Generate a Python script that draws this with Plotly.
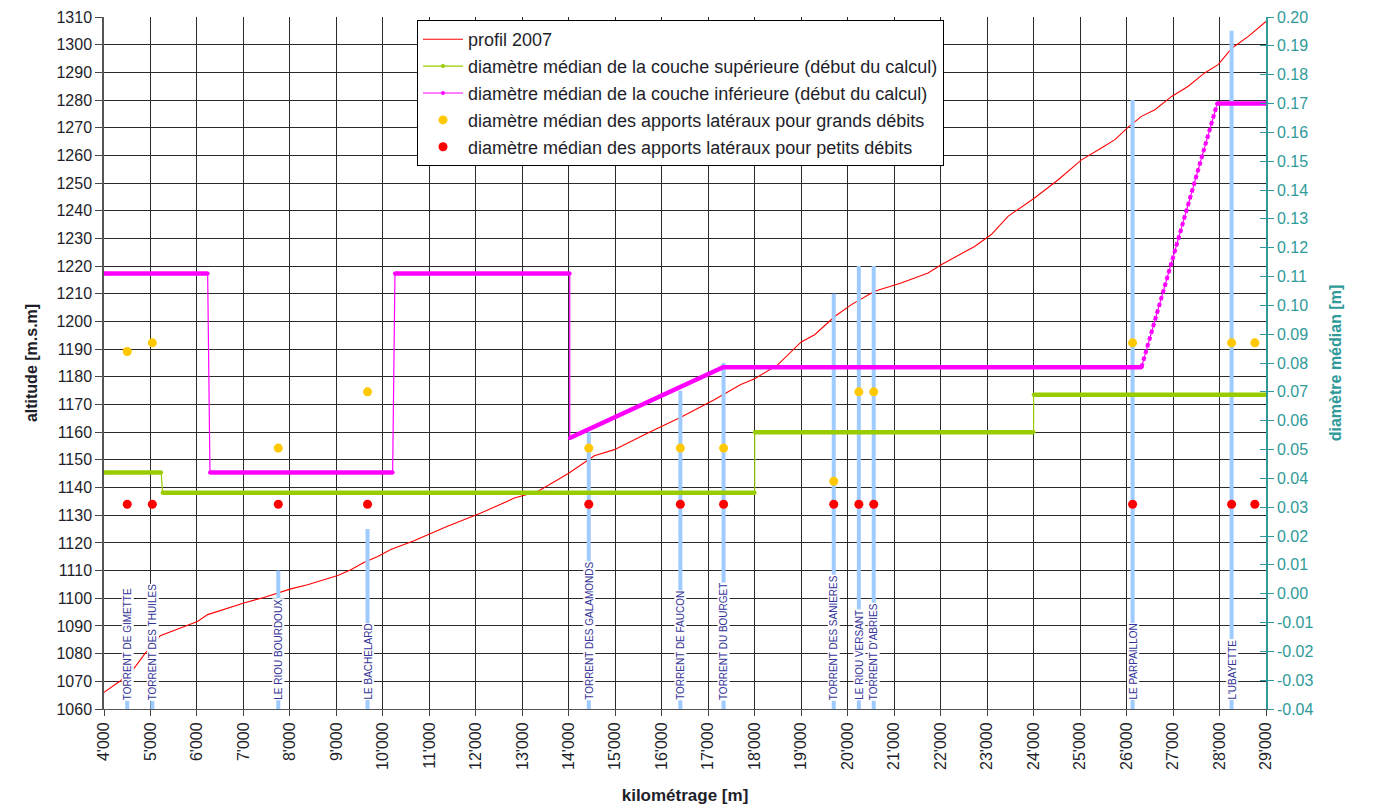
import plotly.graph_objects as go

# Longitudinal profile of the river bed (2007 survey)
km_profil = [4000, 4340, 4650, 4880, 5210, 5440, 6010, 6230, 6580, 7010, 7440, 7730,
             8020, 8380, 8740, 9030, 9310, 9600, 9890, 10170, 10670, 11390, 12110,
             12830, 13330, 13980, 14550, 14980, 15700, 16420, 17130, 17700, 18000,
             18500, 19000, 19290, 19720, 20080, 20580, 21150, 21730, 22010, 22730,
             23090, 23450, 24020, 24530, 25030, 25460, 25750, 26030, 26320, 26610,
             26970, 27320, 27680, 27970, 28270, 28620, 29000]
alt_profil = [1066.0, 1070.0, 1074.8, 1080.0, 1086.5, 1088.0, 1091.6, 1094.1, 1096.1,
              1098.3, 1100.3, 1101.9, 1103.4, 1104.9, 1106.7, 1108.2, 1110.3, 1113.0,
              1115.1, 1117.6, 1120.8, 1126.0, 1130.8, 1136.2, 1138.6, 1145.0, 1151.5,
              1153.7, 1159.7, 1165.5, 1171.7, 1177.2, 1179.3, 1184.4, 1192.6, 1195.2,
              1201.8, 1206.1, 1210.9, 1213.9, 1217.5, 1220.5, 1227.1, 1231.4, 1238.0,
              1244.6, 1251.2, 1258.4, 1262.7, 1265.7, 1270.1, 1274.1, 1276.5, 1281.3,
              1284.9, 1289.8, 1292.8, 1298.8, 1303.0, 1308.4]

# Median diameter of the upper layer (start of computation)
km_sup = [4000, 5230, 5260, 18000, 18000, 24000, 24000, 29000]
d_sup = [0.042, 0.042, 0.035, 0.035, 0.056, 0.056, 0.069, 0.069]

# Median diameter of the lower layer (start of computation)
km_inf = [4000, 6230, 6280, 10210, 10260, 14020, 14020, 17320, 26320, 27950, 29000]
d_inf = [0.111, 0.111, 0.042, 0.042, 0.111, 0.111, 0.054, 0.0785, 0.0785, 0.170, 0.170]

# Tributaries
affluents = ["TORRENT DE GIMETTE", "TORRENT DES THUILES", "LE RIOU BOURDOUX",
             "LE BACHELARD", "TORRENT DES GALAMONDS", "TORRENT DE FAUCON",
             "TORRENT DU BOURGET", "TORRENT DES SANIERES", "LE RIOU VERSANT",
             "TORRENT D'ABRIES", "LE PARPAILLON", "L'UBAYETTE"]
km_affluents = [4500, 5040, 7750, 9670, 14430, 16400, 17330, 19700, 20240, 20560, 26130, 28260]
alt_haut_affluents = [1100, 1100, 1110, 1125, 1160, 1175, 1185, 1210, 1220, 1220, 1280, 1305]

# Lateral inputs (median diameters)
km_apports = [4500, 5040, 7750, 9670, 14430, 16400, 17330, 19700, 20240, 20560, 26130, 28260, 28760]
d_grands_debits = [0.084, 0.087, 0.0505, 0.070, 0.0505, 0.0505, 0.0505, 0.039, 0.070, 0.070,
                   0.087, 0.087, 0.087]
d_petits_debits = [0.031, 0.031, 0.031, 0.031, 0.031, 0.031, 0.031, 0.031, 0.031, 0.031,
                   0.031, 0.031, 0.031]

# Axis ticks
x_ticks = list(range(4000, 29001, 1000))
x_ticktext = [f"{v // 1000}'{v % 1000:03d}" for v in x_ticks]
alt_ticks = list(range(1060, 1311, 10))
d_ticks = [round(-0.04 + 0.01 * i, 2) for i in range(25)]
d_ticktext = [f"{v:.2f}" for v in d_ticks]

FONT = "Liberation Sans, Arial, sans-serif"
TEAL = "#2f9a9a"
TXT = "#1e1e2a"
GRID = "#2a2a2a"


def thick_parts(xs, ys, min_dx=60, steep=2e-5):
    """Split a step line into its gentle and steep non-vertical pieces."""
    parts = {"flat": ([], []), "steep": ([], [])}
    last = {"flat": None, "steep": None}
    for x0, y0, x1, y1 in zip(xs, ys, xs[1:], ys[1:]):
        dx = x1 - x0
        if dx < min_dx:
            continue
        kind = "steep" if abs(y1 - y0) / dx > steep else "flat"
        px, py = parts[kind]
        if last[kind] != (x0, y0):
            if px:
                px.append(None)
                py.append(None)
            px.append(x0)
            py.append(y0)
        px.append(x1)
        py.append(y1)
        last[kind] = (x1, y1)
    return parts


fig = go.Figure()

# river profile
fig.add_trace(go.Scatter(
    x=km_profil, y=alt_profil, mode="lines", name="profil 2007",
    line=dict(color="#ff0000", width=1.1), legendgroup="a"))

# tributary markers (vertical bars)
bx, by = [], []
for k, top in zip(km_affluents, alt_haut_affluents):
    bx += [k, k, None]
    by += [1060, top, None]
fig.add_trace(go.Scatter(
    x=bx, y=by, mode="lines", line=dict(color="#9fcbff", width=4),
    showlegend=False, hoverinfo="skip"))

# layers on the diameter axis
for xs, ys, col, name, grp in [
        (km_sup, d_sup, "#99cc00", "diamètre médian de la couche supérieure (début du calcul)", "b"),
        (km_inf, d_inf, "#ff00ff", "diamètre médian de la couche inférieure (début du calcul)", "c")]:
    fig.add_trace(go.Scatter(
        x=xs, y=ys, mode="lines+markers", name=name, yaxis="y2", legendgroup=grp,
        line=dict(color=col, width=1.2), marker=dict(size=4, color=col)))
    parts = thick_parts(xs, ys)
    fx, fy = parts["flat"]
    if fx:
        fig.add_trace(go.Scatter(
            x=fx, y=fy, mode="lines", yaxis="y2", showlegend=False, legendgroup=grp,
            line=dict(color=col, width=4.5), hoverinfo="skip"))
    sx, sy = parts["steep"]
    if sx:
        fig.add_trace(go.Scatter(
            x=sx, y=sy, mode="lines", yaxis="y2", showlegend=False, legendgroup=grp,
            line=dict(color=col, width=4, dash="4px,3px"), hoverinfo="skip"))

fig.add_trace(go.Scatter(
    x=km_apports, y=d_grands_debits, mode="markers", yaxis="y2", legendgroup="d",
    name="diamètre médian des apports latéraux pour grands débits",
    marker=dict(size=9, color="#ffc800")))
fig.add_trace(go.Scatter(
    x=km_apports, y=d_petits_debits, mode="markers", yaxis="y2", legendgroup="e",
    name="diamètre médian des apports latéraux pour petits débits",
    marker=dict(size=9, color="#ff0000")))

# inner half of the crossing ticks on the right axis
fig.add_trace(go.Scatter(x=[None], y=[None], yaxis="y3", showlegend=False,
                         hoverinfo="skip"))

for name, k in zip(affluents, km_affluents):
    fig.add_annotation(
        x=k, xref="x", y=0, yref="paper", yanchor="bottom", xanchor="center",
        yshift=8, textangle=-90, text=name, showarrow=False,
        font=dict(family=FONT, size=10, color="#333399"),
        bgcolor="white", borderpad=0)

fig.update_layout(
    width=1373, height=808, autosize=False,
    margin=dict(l=104, r=107, t=17, b=99, autoexpand=False),
    paper_bgcolor="white", plot_bgcolor="white",
    font=dict(family=FONT, size=16, color=TXT),
    showlegend=True,
    legend=dict(
        x=(417 - 104) / 1162, y=(709 - 20) / 692, xanchor="left", yanchor="top",
        bgcolor="white", bordercolor="#000000", borderwidth=1,
        font=dict(family=FONT, size=18, color=TXT),
        traceorder="grouped", tracegroupgap=0.5, itemwidth=40),
    xaxis=dict(
        range=[4000, 29000], tickmode="array", tickvals=x_ticks, ticktext=x_ticktext,
        tickangle=-90, ticks="outside", ticklen=6, tickcolor="#444",
        showgrid=True, gridcolor=GRID, gridwidth=1, zeroline=False,
        showline=True, linecolor="#555", linewidth=1, automargin=False,
        tickfont=dict(family=FONT, size=16, color=TXT),
        title=dict(text="<b>kilométrage [m]</b>", font=dict(family=FONT, size=17, color=TXT),
                   standoff=20)),
    yaxis=dict(
        range=[1060, 1310], tickmode="array", tickvals=alt_ticks,
        ticks="outside", ticklen=7, tickcolor="#444",
        showgrid=True, gridcolor=GRID, gridwidth=1, zeroline=False,
        showline=True, linecolor="#555", linewidth=1.5, automargin=False,
        tickfont=dict(family=FONT, size=16, color=TXT),
        title=dict(text="<b>altitude [m.s.m]</b>", font=dict(family=FONT, size=16, color=TXT),
                   standoff=15)),
    yaxis2=dict(
        overlaying="y", side="right", anchor="x",
        range=[-0.04, 0.20], tickmode="array", tickvals=d_ticks, ticktext=d_ticktext,
        ticks="outside", ticklen=6, tickcolor=TEAL, automargin=False,
        showgrid=False, zeroline=False, showline=True, linecolor=TEAL, linewidth=1.5,
        tickfont=dict(family=FONT, size=16, color=TEAL),
        title=dict(text="<b>diamètre médian [m]</b>", font=dict(family=FONT, size=16, color=TEAL),
                   standoff=17)),
    yaxis3=dict(
        overlaying="y", side="right", anchor="x", automargin=False,
        range=[-0.04, 0.20], tickmode="array", tickvals=d_ticks,
        ticks="inside", ticklen=6, tickcolor=TEAL, showticklabels=False,
        showgrid=False, zeroline=False, showline=False),
)

fig.write_html("out.html")
